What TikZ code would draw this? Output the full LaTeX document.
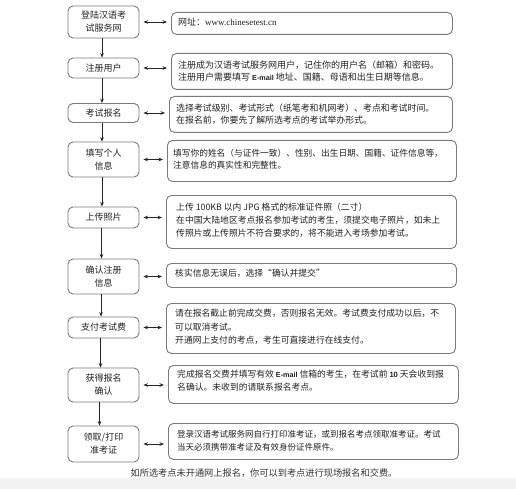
\documentclass[tikz,border=0pt]{standalone}
\usepackage{fontspec}
\setmainfont{Noto Sans CJK SC}
\newfontfamily\latinserif{Liberation Serif}
\newfontfamily\latinsans{Liberation Sans}
\usetikzlibrary{arrows.meta}
\definecolor{boxline}{HTML}{7A7A7A}
\definecolor{txt}{HTML}{222222}
\begin{document}
\begin{tikzpicture}[x=1pt,y=-1pt,
  stepbox/.style={draw=boxline,line width=0.9pt,rounded corners=5pt,text=txt,
    font=\fontsize{9}{13}\selectfont,align=center,inner sep=0pt},
  infobox/.style={draw=boxline,line width=0.9pt,rounded corners=5pt,inner sep=0pt},
  infotext/.style={anchor=west,align=left,text=txt,inner sep=0pt},
  vflow/.style={draw=black!85,line width=0.8pt,-{Stealth[length=4.5pt,width=3.6pt]}},
  hflow/.style={draw=black!85,line width=0.8pt,{Stealth[length=4.5pt,width=3.6pt]}-{Stealth[length=4.5pt,width=3.6pt]},shorten <=4pt,shorten >=4pt}]
\fill[white] (0,0) rectangle (516,478);
\fill[black!5] (0,478) rectangle (516,489);
\useasboundingbox (0,0) rectangle (516,489);

% left step boxes
\node[stepbox,minimum width=71pt,minimum height=32pt] (L1) at (103.5,22) {登陆汉语考\\试服务网};
\node[stepbox,minimum width=71pt,minimum height=20pt] (L2) at (103.5,68) {注册用户};
\node[stepbox,minimum width=71pt,minimum height=19pt] (L3) at (103.5,113) {考试报名};
\node[stepbox,minimum width=71pt,minimum height=35pt] (L4) at (103.5,159.5) {填写个人\\信息};
\node[stepbox,minimum width=71pt,minimum height=21pt] (L5) at (103.5,217.5) {上传照片};
\node[stepbox,minimum width=71pt,minimum height=35pt] (L6) at (103.5,276.5) {确认注册\\信息};
\node[stepbox,minimum width=71pt,minimum height=21pt] (L7) at (103.5,327.5) {支付考试费};
\node[stepbox,minimum width=71pt,minimum height=34pt] (L8) at (103.5,385) {获得报名\\确认};
\node[stepbox,minimum width=71pt,minimum height=36pt] (L9) at (103.5,444) {领取/打印\\准考证};

% right info boxes
\node[infobox,minimum width=281pt,minimum height=22pt,anchor=north west] (R1) at (171,12) {};
\node[infotext,font=\fontsize{9}{13}\selectfont] (T1) at (178,22.5) {网址：{\latinserif www.chinesetest.cn}};

\node[infobox,minimum width=281pt,minimum height=36pt,anchor=north west] (R2) at (171,53) {};
\node[infotext,font=\fontsize{9}{11.5}\selectfont] (T2) at (178,71) {注册成为汉语考试服务网用户，记住你的用户名（邮箱）和密码。\\注册用户需要填写 {\latinsans\bfseries\fontsize{7.2}{11.5}\selectfont E-mail} 地址、国籍、母语和出生日期等信息。};

\node[infobox,minimum width=283pt,minimum height=36pt,anchor=north west] (R3) at (169,96) {};
\node[infotext,font=\fontsize{8.9}{12}\selectfont] (T3) at (176,114) {选择考试级别、考试形式（纸笔考和机网考）、考点和考试时间。\\在报名前，你要先了解所选考点的考试举办形式。};

\node[infobox,minimum width=289pt,minimum height=41pt,anchor=north west] (R4) at (167,140) {};
\node[infotext,font=\fontsize{8.7}{12}\selectfont] (T4) at (173,159) {填写你的姓名（与证件一致）、性别、出生日期、国籍、证件信息等，\\注意信息的真实性和完整性。};

\node[infobox,minimum width=290pt,minimum height=53pt,anchor=north west] (R5) at (166,195) {};
\node[infotext,font=\fontsize{8.8}{13}\selectfont] (T5) at (176,220.5) {上传 100KB 以内 JPG 格式的标准证件照（二寸）\\在中国大陆地区考点报名参加考试的考生，须提交电子照片，如未上\\传照片或上传照片不符合要求的，将不能进入考场参加考试。};

\node[infobox,minimum width=290pt,minimum height=24pt,anchor=north west] (R6) at (166,263) {};
\node[infotext,font=\fontsize{8.8}{13}\selectfont] (T6) at (175,273.5) {核实信息无误后，选择“确认并提交”};

\node[infobox,minimum width=289pt,minimum height=50pt,anchor=north west] (R7) at (166,303) {};
\node[infotext,font=\fontsize{8.8}{13.5}\selectfont] (T7) at (175,327) {请在报名截止前完成交费，否则报名无效。考试费支付成功以后，不\\可以取消考试。\\开通网上支付的考点，考生可直接进行在线支付。};

\node[infobox,minimum width=290pt,minimum height=38pt,anchor=north west] (R8) at (168,365) {};
\node[infotext,font=\fontsize{8.8}{13}\selectfont] (T8) at (177,381) {完成报名交费并填写有效 {\latinsans\bfseries\fontsize{7.2}{13}\selectfont E-mail} 信箱的考生，在考试前 {\latinsans\bfseries\fontsize{7.6}{13}\selectfont 10} 天会收到报\\名确认。未收到的请联系报名考点。};

\node[infobox,minimum width=290pt,minimum height=36pt,anchor=north west] (R9) at (168,423) {};
\node[infotext,font=\fontsize{8.5}{13}\selectfont] (T9) at (177,441) {登录汉语考试服务网自行打印准考证，或到报名考点领取准考证。考试\\当天必须携带准考证及有效身份证件原件。};

% footer
\node[text=black!80,font=\fontsize{9.2}{12}\selectfont] (F) at (264,473) {如所选考点未开通网上报名，你可以到考点进行现场报名和交费。};

% vertical flow
\draw[vflow] ([xshift=-1.5pt]L1.south) -- ([xshift=-1.5pt]L2.north);
\draw[vflow] ([xshift=-1.5pt]L2.south) -- ([xshift=-1.5pt]L3.north);
\draw[vflow] ([xshift=-1.5pt]L3.south) -- ([xshift=-1.5pt]L4.north);
\draw[vflow] ([xshift=-1.5pt]L4.south) -- ([xshift=-1.5pt]L5.north);
\draw[vflow] ([xshift=-2pt]L5.south) -- ([xshift=-2pt]L6.north);
\draw[vflow] ([xshift=-2.5pt]L6.south) -- ([xshift=-2.5pt]L7.north);
\draw[vflow] ([xshift=-3pt]L7.south) -- ([xshift=-3pt]L8.north);
\draw[vflow] ([xshift=-4pt]L8.south) -- ([xshift=-4pt]L9.north);

% horizontal double arrows
\foreach \i in {1,...,9}{
  \draw[hflow] (L\i.east) -- (L\i.east -| R\i.west);
}
\end{tikzpicture}
\end{document}
